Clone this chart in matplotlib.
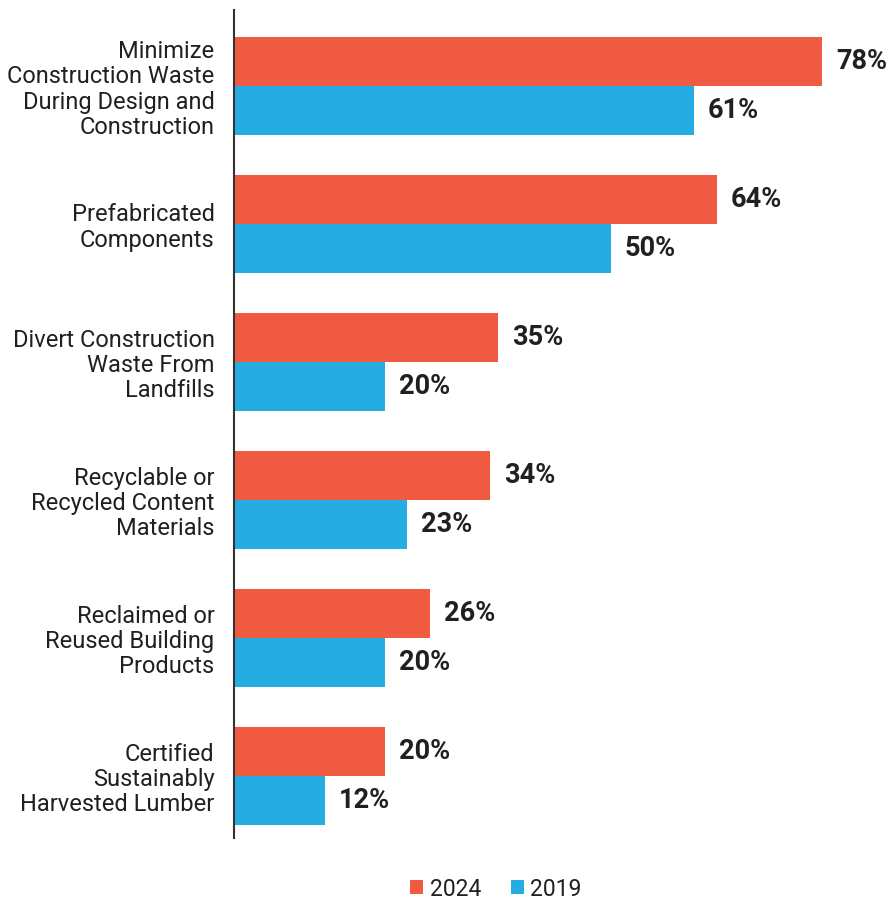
import matplotlib.pyplot as plt
import numpy as np

# survey data: share of respondents using each practice
categories = [
    "Minimize\nConstruction Waste\nDuring Design and\nConstruction",
    "Prefabricated\nComponents",
    "Divert Construction\nWaste From\nLandfills",
    "Recyclable or\nRecycled Content\nMaterials",
    "Reclaimed or\nReused Building\nProducts",
    "Certified\nSustainably\nHarvested Lumber",
]
vals_2024 = [78, 64, 35, 34, 26, 20]
vals_2019 = [61, 50, 20, 23, 20, 12]
series_names = ["2024", "2019"]

c_2024 = "#F05A40"
c_2019 = "#25ADE3"
txt = "#231F20"

plt.rcParams['font.family'] = ['Roboto', 'DejaVu Sans']

fig = plt.figure(figsize=(8.88, 9.01), dpi=100)
ax = fig.add_axes([234 / 888, 63 / 901, 654 / 888, 828 / 901])

y = np.arange(len(categories))
h = 0.355

b1 = ax.barh(y - h / 2, vals_2024, height=h, color=c_2024, label=series_names[0])
b2 = ax.barh(y + h / 2, vals_2019, height=h, color=c_2019, label=series_names[1])

for bars, vals in ((b1, vals_2024), (b2, vals_2019)):
    for bar, v in zip(bars, vals):
        ax.annotate("%d%%" % v, (v, bar.get_y() + bar.get_height() / 2),
                    xytext=(10, 0), textcoords="offset points",
                    ha="left", va="center", fontsize=19.5, fontweight="bold",
                    color=txt)

ax.set_xlim(0, 86.7)
ax.set_ylim(5.45, -0.55)
ax.set_yticks(y)
ax.set_yticklabels(categories, fontsize=17, color=txt, linespacing=1.12,
                   ha="right")
ax.tick_params(axis="y", length=0, pad=14)
ax.set_xticks([])

for s in ("top", "right", "bottom"):
    ax.spines[s].set_visible(False)
ax.spines["left"].set_color("#333333")
ax.spines["left"].set_linewidth(1.5)

fig.legend(handles=[b1, b2], labels=series_names, loc="center",
           bbox_to_anchor=(496 / 888, 1 - 889 / 901), ncol=2, frameon=False,
           fontsize=16.5, handlelength=0.55, handleheight=0.55,
           handletextpad=0.3, columnspacing=1.3, labelcolor=txt)

fig.savefig("out.png", dpi=100)
